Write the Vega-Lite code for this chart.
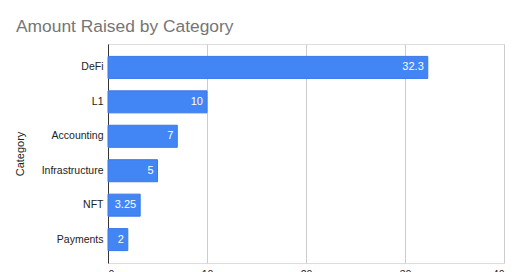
{
  "$schema": "https://vega.github.io/schema/vega-lite/v6.json",
  "autosize": "none",
  "width": 396,
  "height": 219,
  "padding": {"left": 108, "top": 44, "right": 16, "bottom": 9},
  "background": "white",
  "title": {
    "text": "Amount Raised by Category",
    "anchor": "start",
    "frame": "group",
    "dx": -92,
    "offset": 9,
    "font": "Liberation Sans",
    "fontSize": 17.4,
    "fontWeight": "normal",
    "color": "#757575"
  },
  "data": {
    "values": [
      {"Category": "DeFi", "Amount": 32.3},
      {"Category": "L1", "Amount": 10},
      {"Category": "Accounting", "Amount": 7},
      {"Category": "Infrastructure", "Amount": 5},
      {"Category": "NFT", "Amount": 3.25},
      {"Category": "Payments", "Amount": 2}
    ]
  },
  "encoding": {
    "y": {
      "field": "Category",
      "type": "nominal",
      "sort": null,
      "scale": {"paddingInner": 0.36, "paddingOuter": 0.36},
      "axis": {
        "title": "Category",
        "titleFont": "Liberation Sans",
        "titleFontSize": 11,
        "titleFontWeight": "normal",
        "titleColor": "#222222",
        "titlePadding": 16,
        "labelFont": "Liberation Sans",
        "labelFontSize": 10.5,
        "labelColor": "#222222",
        "labelPadding": 5,
        "ticks": false,
        "domain": true,
        "domainColor": "#333333",
        "grid": false
      }
    },
    "x": {
      "field": "Amount",
      "type": "quantitative",
      "scale": {"domain": [0, 40], "nice": false},
      "axis": {
        "title": null,
        "values": [0, 10, 20, 30, 40],
        "grid": true,
        "gridColor": "#cccccc",
        "domain": false,
        "ticks": false,
        "labelFont": "Liberation Sans",
        "labelFontSize": 10.5,
        "labelColor": "#222222",
        "labelPadding": 6
      }
    }
  },
  "layer": [
    {
      "mark": {"type": "bar", "color": "#4285f4", "stroke": "#3b78e7", "strokeWidth": 1}
    },
    {
      "mark": {
        "type": "text",
        "align": "right",
        "baseline": "middle",
        "dx": -4,
        "font": "Liberation Sans",
        "fontSize": 11,
        "color": "white"
      },
      "encoding": {"text": {"field": "Amount", "type": "quantitative"}}
    }
  ]
}
